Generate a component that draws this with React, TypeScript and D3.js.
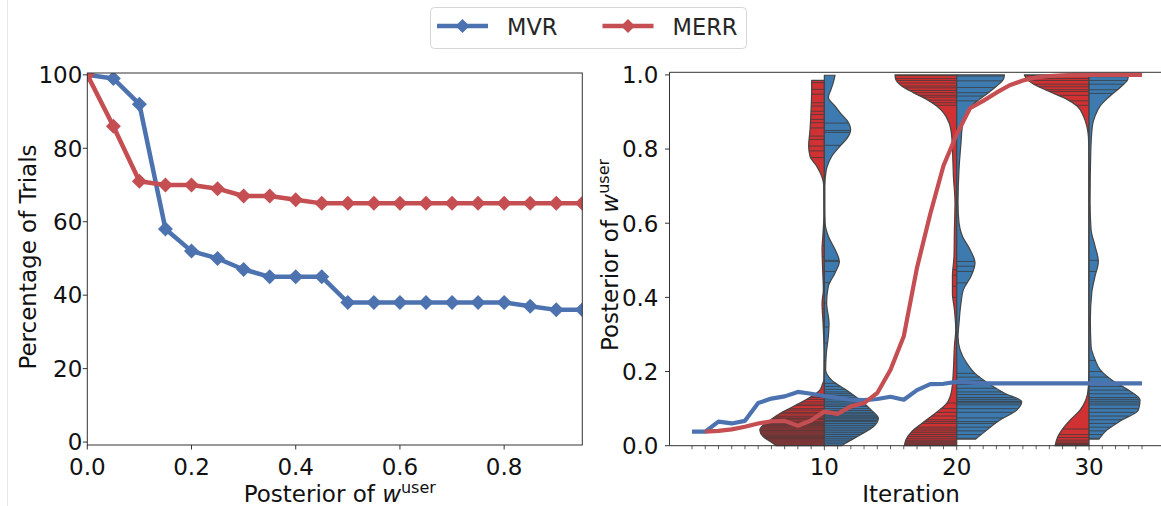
import React from 'react';
import * as d3 from 'd3';

// ---------- Left panel data ----------
const POSTERIOR_X = [0, 0.05, 0.1, 0.15, 0.2, 0.25, 0.3, 0.35, 0.4, 0.45, 0.5, 0.55, 0.6, 0.65, 0.7, 0.75, 0.8, 0.85, 0.9, 0.95];
const MVR_PCT = [100, 99, 92, 58, 52, 50, 47, 45, 45, 45, 38, 38, 38, 38, 38, 38, 38, 37, 36, 36];
const MERR_PCT = [100, 86, 71, 70, 70, 69, 67, 67, 66, 65, 65, 65, 65, 65, 65, 65, 65, 65, 65, 65];
const LEFT_Y_TICKS = [0, 20, 40, 60, 80, 100];
const LEFT_X_TICKS = [0, 0.2, 0.4, 0.6, 0.8];

// ---------- Right panel data ----------
const ITERATIONS = [0,1,2,3,4,5,6,7,8,9,10,11,12,13,14,15,16,17,18,19,20,21,22,23,24,25,26,27,28,29,30,31,32,33,34];
const MVR_ITER = [0.038, 0.038, 0.065, 0.06, 0.067, 0.115, 0.127, 0.133, 0.145, 0.14, 0.134, 0.129, 0.124, 0.123, 0.126, 0.132, 0.124, 0.15, 0.166, 0.167, 0.172, 0.171, 0.168, 0.168, 0.168, 0.168, 0.168, 0.168, 0.168, 0.168, 0.168, 0.168, 0.168, 0.168, 0.168];
const MERR_ITER = [null, 0.038, 0.04, 0.044, 0.051, 0.06, 0.066, 0.067, 0.054, 0.068, 0.092, 0.086, 0.106, 0.115, 0.142, 0.205, 0.295, 0.48, 0.625, 0.755, 0.84, 0.91, 0.93, 0.952, 0.972, 0.985, 0.993, 0.997, 0.999, 1, 1, 1, 1, 1, 1];
const RIGHT_Y_TICKS = [0, 0.2, 0.4, 0.6, 0.8, 1.0];
const RIGHT_X_MAJOR = [10, 20, 30];
const VIOLIN_ITERS = [10, 20, 30];

// violin density profiles: [posterior value, density]
const DENS_10_MERR = [[0.0,4.8],[0.011,5.4],[0.024,6.1],[0.042,6.45],[0.051,6.3],[0.069,5.4],[0.0875,4.4],[0.096,3.8],[0.123,1.9],[0.15,0.45],[0.165,0.2],[0.178,0.05],[0.25,0.03],[0.33,0.13],[0.385,0.23],[0.42,0.1],[0.475,0.17],[0.529,0.23],[0.574,0.13],[0.62,0.05],[0.705,0.07],[0.727,0.27],[0.754,0.77],[0.78,1.43],[0.808,1.57],[0.853,1.43],[0.907,1.33],[0.96,1.27],[0.985,1.27]];
const DENS_10_MVR = [[0.0,1.7],[0.006,2.07],[0.029,3.57],[0.051,4.9],[0.074,5.4],[0.096,4.7],[0.123,3.57],[0.15,2.2],[0.177,0.73],[0.205,0.13],[0.25,0.2],[0.295,0.4],[0.33,0.47],[0.385,0.23],[0.43,0.4],[0.466,1.07],[0.497,1.5],[0.529,1.07],[0.565,0.4],[0.6,0.08],[0.65,0.05],[0.7,0.05],[0.745,0.2],[0.754,0.3],[0.78,0.73],[0.808,1.57],[0.83,2.3],[0.853,2.63],[0.876,2.3],[0.898,1.57],[0.916,1.07],[0.939,0.4],[0.961,0.67],[0.98,0.9],[0.999,1.07]];
const DENS_20_MERR = [[0.0,5.23],[0.015,5.1],[0.038,4.5],[0.06,3.5],[0.087,2.17],[0.114,1.0],[0.15,0.5],[0.205,0.33],[0.268,0.23],[0.313,0.1],[0.367,0.23],[0.412,0.43],[0.457,0.43],[0.511,0.27],[0.583,0.23],[0.655,0.17],[0.727,0.33],[0.781,0.4],[0.835,0.5],[0.871,0.77],[0.898,1.33],[0.916,2.0],[0.934,3.0],[0.952,4.33],[0.97,5.5],[0.988,6.1],[1.0,6.17]];
const DENS_20_MVR = [[0.018,1.9],[0.042,3.0],[0.069,4.33],[0.096,6.0],[0.119,6.5],[0.141,4.83],[0.168,3.17],[0.195,1.83],[0.223,1.0],[0.259,0.33],[0.295,0.13],[0.33,0.23],[0.385,0.43],[0.421,0.67],[0.457,1.43],[0.493,1.83],[0.529,1.33],[0.565,0.57],[0.601,0.23],[0.655,0.13],[0.745,0.23],[0.817,0.43],[0.862,0.57],[0.898,1.0],[0.925,1.83],[0.952,3.17],[0.97,4.0],[0.988,4.67],[1.0,4.77]];
const DENS_30_MERR = [[0.0,3.4],[0.024,3.13],[0.042,2.73],[0.069,1.9],[0.096,0.9],[0.123,0.33],[0.159,0.07],[0.2,0.03],[0.8,0.03],[0.835,0.07],[0.862,0.23],[0.889,0.57],[0.916,1.2],[0.934,2.2],[0.952,3.7],[0.97,5.2],[0.988,6.2],[1.0,6.47]];
const DENS_30_MVR = [[0.018,1.0],[0.042,1.77],[0.069,3.27],[0.096,4.93],[0.123,5.1],[0.15,3.93],[0.177,2.27],[0.205,1.1],[0.232,0.6],[0.268,0.2],[0.34,0.13],[0.412,0.27],[0.457,0.6],[0.497,0.93],[0.538,0.6],[0.583,0.2],[0.655,0.1],[0.79,0.17],[0.862,0.33],[0.889,0.6],[0.916,1.1],[0.943,2.1],[0.97,3.27],[0.988,3.87],[1.0,3.93]];

// individual observations (drawn as sticks)
const STICKS_10_MERR = [0.979,0.961,0.948,0.925,0.916,0.902,0.893,0.88,0.871,0.857,0.835,0.826,0.808,0.795,0.777,0.58,0.54,0.51,0.44,0.37,0.137,0.13,0.125,0.118,0.112,0.108,0.1,0.096,0.09,0.086,0.08,0.077,0.073,0.07,0.066,0.063,0.06,0.057,0.054,0.051,0.048,0.045,0.042,0.04,0.037,0.034,0.031,0.028,0.025,0.022,0.019,0.016,0.013,0.01,0.007,0.004];
const STICKS_10_MVR = [0.87,0.85,0.845,0.81,0.5,0.497,0.47,0.44,0.385,0.32,0.277,0.23,0.168,0.16,0.152,0.145,0.14,0.135,0.13,0.126,0.12,0.115,0.11,0.106,0.1,0.095,0.09,0.086,0.082,0.078,0.075,0.072,0.068,0.065,0.06,0.055,0.05,0.045,0.04,0.035,0.03,0.025,0.02,0.015,0.01,0.005];
const STICKS_20_MERR = [0.998,0.99,0.985,0.978,0.97,0.965,0.958,0.952,0.945,0.94,0.932,0.925,0.918,0.475,0.46,0.43,0.4,0.115,0.1,0.09,0.08,0.07,0.065,0.06,0.05,0.045,0.04,0.035,0.03,0.025,0.02,0.015,0.012,0.008,0.005,0.002];
const STICKS_20_MVR = [0.997,0.984,0.966,0.952,0.943,0.93,0.497,0.484,0.47,0.439,0.195,0.185,0.175,0.165,0.155,0.145,0.138,0.13,0.125,0.12,0.118,0.115,0.11,0.1,0.09,0.075,0.065,0.06,0.05,0.04,0.03,0.02];
const STICKS_30_MERR = [0.998,0.99,0.985,0.975,0.968,0.96,0.955,0.945,0.93,0.918,0.045,0.03,0.022,0.015,0.01,0.006,0.003];
const STICKS_30_MVR = [0.995,0.985,0.975,0.96,0.95,0.5,0.47,0.23,0.2,0.185,0.17,0.16,0.15,0.14,0.13,0.125,0.12,0.115,0.11,0.1,0.09,0.08,0.07,0.06,0.05,0.04,0.03,0.02];

const VIOLINS = [
  { iter: 10, merr: DENS_10_MERR, mvr: DENS_10_MVR, merrSticks: STICKS_10_MERR, mvrSticks: STICKS_10_MVR },
  { iter: 20, merr: DENS_20_MERR, mvr: DENS_20_MVR, merrSticks: STICKS_20_MERR, mvrSticks: STICKS_20_MVR },
  { iter: 30, merr: DENS_30_MERR, mvr: DENS_30_MVR, merrSticks: STICKS_30_MERR, mvrSticks: STICKS_30_MVR },
];

const LEGEND = [
  { label: 'MVR', color: '#4c72b0' },
  { label: 'MERR', color: '#c44e52' },
];

const W = 1161, H = 506;
const FONT = "'DejaVu Sans', sans-serif";
const FS = 23;
const BLUE = '#4c72b0';
const RED = '#c44e52';
const VRED = '#d03234';
const VBLUE = '#3d7ab0';
const AX = '#333';

// scales
const lx = d3.scaleLinear().domain([0, 0.95]).range([87.3, 582.3]);
const ly = d3.scaleLinear().domain([-0.8, 100.5]).range([445, 73]);
const rx = d3.scaleLinear().domain([-1.7, 35.7]).range([669.5, 1164.5]);
const ry = d3.scaleLinear().domain([0, 1.007]).range([445.7, 72.3]);
const wScale = d3.scaleLinear().domain([0, 1]).range([0, 10]);

function densAt(profile: number[][], v: number) {
  for (let i = 0; i < profile.length - 1; i++) {
    const [a, da] = profile[i];
    const [b, db] = profile[i + 1];
    if (v >= a && v <= b) {
      const t = b === a ? 0 : (v - a) / (b - a);
      return da + t * (db - da);
    }
  }
  if (v < profile[0][0]) return profile[0][1];
  return profile[profile.length - 1][1];
}

function Diamond({ x, y, r, color }: { x: number; y: number; r: number; color: string }) {
  return <path d={`M${x},${y - r}L${x + r},${y}L${x},${y + r}L${x - r},${y}Z`} fill={color} />;
}

function ViolinHalf({ cx, profile, sticks, side, color }: any) {
  const area = d3.area<number[]>()
    .y(d => ry(d[0]))
    .x0(() => cx)
    .x1(d => cx + side * wScale(d[1]))
    .curve(d3.curveMonotoneY);
  const path = area(profile) || '';
  return (
    <g>
      <path d={path} fill={color} stroke="none" />
      {sticks.map((s: number, i: number) => (
        <line key={i} x1={cx} x2={cx + side * wScale(densAt(profile, s))} y1={ry(s)} y2={ry(s)}
          stroke="#3a3a3a" strokeWidth={0.9} strokeOpacity={0.85} />
      ))}
      <path d={path} fill="none" stroke="#444" strokeWidth={1.2} strokeLinejoin="round" />
    </g>
  );
}

function Superscripted({ x, y, anchor, transform }: any) {
  return (
    <text x={x} y={y} textAnchor={anchor} transform={transform} fontFamily={FONT} fontSize={FS} fill="#111">
      Posterior of <tspan fontStyle="italic">w</tspan><tspan fontSize={16} dy={-9}>user</tspan>
    </text>
  );
}

export default function App() {
  const leftLine = d3.line<number>().x((_, i) => lx(POSTERIOR_X[i])).y(d => ly(d));
  const rLine = d3.line<number | null>()
    .defined(d => d !== null)
    .x((_, i) => rx(ITERATIONS[i]))
    .y(d => ry(d as number));

  const lLeft = lx(0), lRight = lx(0.95), lTop = ly(100.5), lBot = ly(-0.8);

  return (
    <svg width={W} height={H} style={{ position: 'absolute', left: 0, top: 0, background: '#fff' }}>
      <rect x={0} y={0} width={W} height={H} fill="#fff" />
      <line x1={7.5} x2={7.5} y1={0} y2={H} stroke="#e8e8e8" strokeWidth={1} />

      {/* ---------- Left panel ---------- */}
      <defs>
        <clipPath id="leftClip">
          <rect x={lLeft} y={lTop} width={lRight - lLeft} height={lBot - lTop} />
        </clipPath>
      </defs>
      <g clipPath="url(#leftClip)">
        <path d={leftLine(MVR_PCT) || ''} fill="none" stroke={BLUE} strokeWidth={4.5} strokeLinejoin="round" />
        {MVR_PCT.map((v, i) => <Diamond key={'b' + i} x={lx(POSTERIOR_X[i])} y={ly(v)} r={7.5} color={BLUE} />)}
        <path d={leftLine(MERR_PCT) || ''} fill="none" stroke={RED} strokeWidth={4.5} strokeLinejoin="round" />
        {MERR_PCT.map((v, i) => <Diamond key={'r' + i} x={lx(POSTERIOR_X[i])} y={ly(v)} r={7.5} color={RED} />)}
      </g>
      <rect x={lLeft} y={lTop} width={lRight - lLeft} height={lBot - lTop} fill="none" stroke={AX} strokeWidth={1} />
      {LEFT_Y_TICKS.map(t => (
        <g key={'ly' + t}>
          <line x1={lLeft - 4.5} x2={lLeft} y1={ly(t)} y2={ly(t)} stroke={AX} />
          <text x={lLeft - 5} y={ly(t) + 8.3} textAnchor="end" fontFamily={FONT} fontSize={FS} fill="#111">{t}</text>
        </g>
      ))}
      {LEFT_X_TICKS.map(t => (
        <g key={'lx' + t}>
          <line x1={lx(t)} x2={lx(t)} y1={lBot} y2={lBot + 4.5} stroke={AX} />
          <text x={lx(t)} y={474.5} textAnchor="middle" fontFamily={FONT} fontSize={FS} fill="#111">{t.toFixed(1)}</text>
        </g>
      ))}
      <text x={36} y={257} transform="rotate(-90,36,257)" textAnchor="middle" fontFamily={FONT} fontSize={FS} fill="#111">Percentage of Trials</text>
      <Superscripted x={339.8} y={501.5} anchor="middle" />

      {/* ---------- Right panel ---------- */}
      {VIOLINS.map(v => (
        <g key={'v' + v.iter}>
          <ViolinHalf cx={rx(v.iter)} profile={v.merr} sticks={v.merrSticks} side={-1} color={VRED} />
          <ViolinHalf cx={rx(v.iter)} profile={v.mvr} sticks={v.mvrSticks} side={1} color={VBLUE} />
        </g>
      ))}
      <path d={rLine(MVR_ITER) || ''} fill="none" stroke={BLUE} strokeWidth={4.2} strokeLinejoin="round" />
      <path d={rLine(MERR_ITER) || ''} fill="none" stroke={RED} strokeWidth={4.2} strokeLinejoin="round" />

      <line x1={rx(-1.7)} x2={W} y1={ry(1.007)} y2={ry(1.007)} stroke={AX} />
      <line x1={rx(-1.7)} x2={W} y1={ry(0)} y2={ry(0)} stroke={AX} />
      <line x1={rx(-1.7)} x2={rx(-1.7)} y1={ry(0)} y2={ry(1.007)} stroke={AX} />
      {RIGHT_Y_TICKS.map(t => (
        <g key={'ry' + t}>
          <line x1={rx(-1.7) - 4.5} x2={rx(-1.7)} y1={ry(t)} y2={ry(t)} stroke={AX} />
          <text x={rx(-1.7) - 11} y={ry(t) + 8.3} textAnchor="end" fontFamily={FONT} fontSize={FS} fill="#111">{t.toFixed(1)}</text>
        </g>
      ))}
      {ITERATIONS.map(t => (
        <line key={'rm' + t} x1={rx(t)} x2={rx(t)} y1={ry(0)} y2={ry(0) + (VIOLIN_ITERS.includes(t) ? 4.5 : 3.5)} stroke={AX} strokeWidth={0.8} />
      ))}
      {RIGHT_X_MAJOR.map(t => (
        <text key={'rx' + t} x={rx(t)} y={474.5} textAnchor="middle" fontFamily={FONT} fontSize={FS} fill="#111">{t}</text>
      ))}
      <text x={911} y={501.5} textAnchor="middle" fontFamily={FONT} fontSize={FS} fill="#111">Iteration</text>
      <Superscripted x={617.5} y={255} anchor="middle" transform="rotate(-90,617.5,255)" />

      {/* ---------- Legend ---------- */}
      <rect x={430.5} y={7.5} width={316} height={41} rx={4} fill="#fff" stroke="#d6d6d6" strokeWidth={1} />
      {LEGEND.map((l, i) => {
        const x0 = 437 + i * 165.5;
        return (
          <g key={l.label}>
            <line x1={x0} x2={x0 + 51} y1={26} y2={26} stroke={l.color} strokeWidth={4.5} />
            <Diamond x={x0 + 25.5} y={26} r={7} color={l.color} />
            <text x={x0 + 70} y={35} fontFamily={FONT} fontSize={22.5} fill="#262626">{l.label}</text>
          </g>
        );
      })}
    </svg>
  );
}
